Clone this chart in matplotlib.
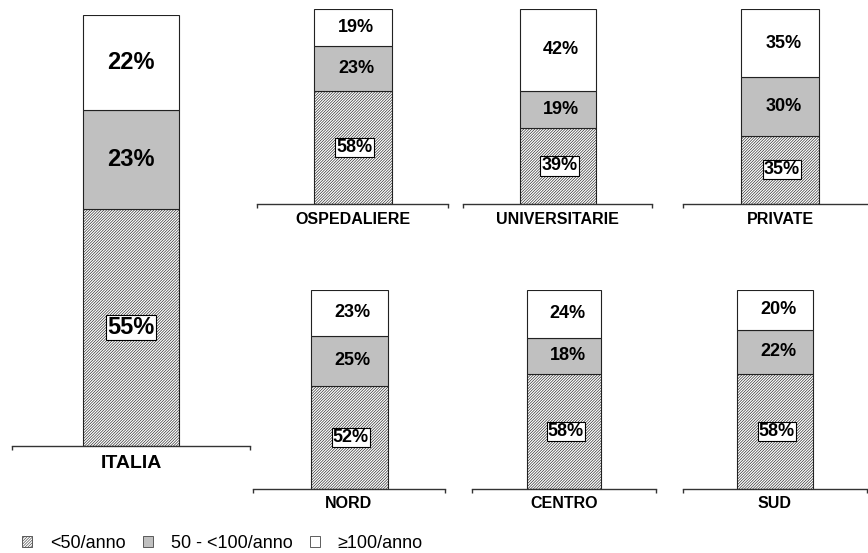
import matplotlib
matplotlib.use("Agg")
import matplotlib.pyplot as plt
from matplotlib.patches import Patch

plt.rcParams['font.family'] = ['Liberation Sans', 'DejaVu Sans']
plt.rcParams['hatch.linewidth'] = 0.45

# Share of centres by yearly volume, per group
groups = ['ITALIA', 'OSPEDALIERE', 'UNIVERSITARIE', 'PRIVATE', 'NORD', 'CENTRO', 'SUD']
low = [55, 58, 39, 35, 52, 58, 58]    # <50/anno
mid = [23, 23, 19, 30, 25, 18, 22]    # 50 - <100/anno
high = [22, 19, 42, 35, 23, 24, 20]   # >=100/anno
legend_labels = ['<50/anno', '50 - <100/anno', '\u2265100/anno']

HATCH = '/' * 12

W, H = 868, 553
fig = plt.figure(figsize=(W / 100, H / 100), dpi=100)

# panel frames in pixels: left, right, baseline (from top), height of 100%, bar width
frames = {
    'ITALIA':        (12, 250, 446, 431, 96),
    'OSPEDALIERE':   (257, 448, 204, 195, 78),
    'UNIVERSITARIE': (463, 652, 204, 195, 76),
    'PRIVATE':       (683, 877, 204, 195, 78),
    'NORD':          (253, 445, 489, 199, 77),
    'CENTRO':        (472, 656, 489, 199, 74),
    'SUD':           (683, 867, 489, 199, 76),
}

for i, g in enumerate(groups):
    left, right, base, hgt, bw = frames[g]
    big = g == 'ITALIA'
    ax = fig.add_axes([left / W, (H - base) / H, (right - left) / W, hgt / H])
    ax.set_xlim(0, 1)
    ax.set_ylim(0, 100)
    ax.patch.set_visible(False)
    for s in ('top', 'left', 'right'):
        ax.spines[s].set_visible(False)
    ax.spines['bottom'].set_color('#333333')
    ax.spines['bottom'].set_linewidth(1.0)
    ax.set_xticks([0, 1])
    ax.set_xticklabels([])
    ax.tick_params(axis='x', length=3, width=1, color='#333333', direction='out')
    ax.set_yticks([])

    w = bw / (right - left)
    ax.bar(0.5, low[i], width=w, bottom=0, color='white', edgecolor='#222222',
           hatch=HATCH, linewidth=0.8)
    ax.bar(0.5, mid[i], width=w, bottom=low[i], color='#C0C0C0',
           edgecolor='#222222', linewidth=0.8)
    ax.bar(0.5, high[i], width=w, bottom=low[i] + mid[i], color='white',
           edgecolor='#222222', linewidth=0.8)

    fs = 17 if big else 13
    dx = 0.0 if big else 0.02
    ax.text(0.5 + dx, low[i] + mid[i] + high[i] / 2, f'{high[i]}%', ha='center',
            va='center', fontsize=fs, fontweight='bold')
    ax.text(0.5 + dx, low[i] + mid[i] / 2, f'{mid[i]}%', ha='center',
            va='center', fontsize=fs, fontweight='bold')
    ax.text(0.5 + dx / 2, low[i] / 2, f'{low[i]}%', ha='center', va='center',
            fontsize=fs, fontweight='bold',
            bbox=dict(boxstyle='square,pad=0.06', facecolor='white',
                      edgecolor='black', linewidth=0.8))

    # group name under the baseline
    off = 18 if big else 15
    fig.text(((left + right) / 2) / W, (H - base - off) / H, g, ha='center',
             va='center', fontsize=14 if big else 11.5, fontweight='bold')

handles = [
    Patch(facecolor='white', edgecolor='#444444', hatch=HATCH, linewidth=0.6),
    Patch(facecolor='#C0C0C0', edgecolor='#444444', linewidth=0.6),
    Patch(facecolor='white', edgecolor='#444444', linewidth=0.6),
]
fig.legend(handles, legend_labels, loc='center left',
           bbox_to_anchor=(22 / W, (H - 543) / H), ncol=3, frameon=False,
           fontsize=13, handlelength=0.55, handleheight=0.55,
           handletextpad=1.0, columnspacing=0.95, borderaxespad=0, borderpad=0)

fig.savefig('out.png', dpi=100)
